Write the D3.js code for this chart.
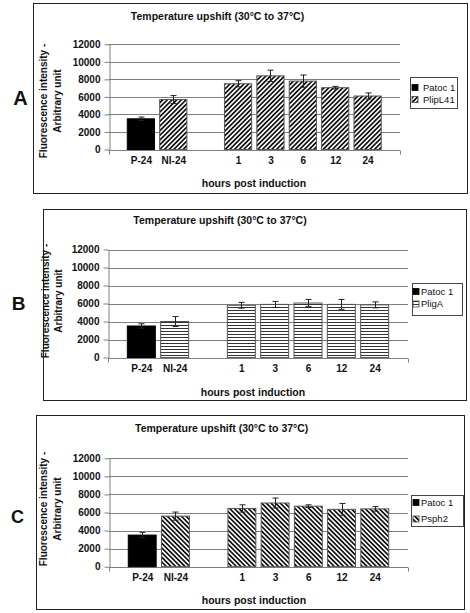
<!DOCTYPE html>
<html><head><meta charset="utf-8">
<script src="https://cdn.jsdelivr.net/npm/d3@7"></script>
<style>
html,body{margin:0;padding:0;background:#fff;}
text{font-family:"Liberation Sans",Arial,sans-serif;fill:#111;}
</style></head><body>
<svg id="c" width="470" height="613"></svg>
<script>
// ---- data ----
const categories = ["P-24", "NI-24", "1", "3", "6", "12", "24"];
const gapSlot = " ";                     // empty slot between NI-24 and 1
const yTicks = [0, 2000, 4000, 6000, 8000, 10000, 12000];
const chartTitle = "Temperature upshift (30°C to 37°C)";
const xTitle = "hours post induction";
const yTitle1 = "Fluorescence intensity -";
const yTitle2 = "Arbitrary unit";
const controlSeries = "Patoc 1";         // series of the first category

const strainA = "PlipL41";
const valuesA = [3500, 5700, 7500, 8400, 7800, 7050, 6100];
const errorsA = [200, 450, 350, 650, 700, 150, 350];

const strainB = "PligA";
const valuesB = [3500, 4000, 5800, 5900, 6050, 5900, 5850];
const errorsB = [250, 550, 320, 330, 400, 550, 330];

const strainC = "Psph2";
const valuesC = [3500, 5600, 6450, 7050, 6700, 6350, 6400];
const errorsC = [300, 450, 400, 550, 150, 650, 250];

// ---- drawing ----
const svg = d3.select("#c");
svg.append("rect").attr("width",470).attr("height",613).attr("fill","#fff");
const defs = svg.append("defs");

function diagPattern(id, angle){
  const p = defs.append("pattern").attr("id", id).attr("patternUnits","userSpaceOnUse")
    .attr("width", 3.3).attr("height", 10).attr("patternTransform", `rotate(${angle})`);
  p.append("rect").attr("width",3.3).attr("height",10).attr("fill","#fff");
  p.append("rect").attr("width",1.7).attr("height",10).attr("fill","#111");
}
diagPattern("hatchA", 45);
diagPattern("hatchC", -45);
{
  const p = defs.append("pattern").attr("id","hatchB").attr("patternUnits","userSpaceOnUse")
    .attr("width", 10).attr("height", 3);
  p.append("rect").attr("width",10).attr("height",3).attr("fill","#fff");
  p.append("rect").attr("y",1).attr("width",10).attr("height",1).attr("fill","#333");
}

const panels = [
  {letter:"A", strain:strainA, values:valuesA, errors:errorsA, fill:"url(#hatchA)",
   frame:[33,3,467,193], xr:[108.5,400], yr:[149.5,44.3], title:[217.5,16], xt:[254,183],
   yt:[43,57.5,101], let:[20.5,105,20], leg:[410,77,457,108], legY:[87.5,99.5], legSw:412, legTx:423},
  {letter:"B", strain:strainB, values:valuesB, errors:errorsB, fill:"url(#hatchB)",
   frame:[43,209,466,400], xr:[108,408], yr:[357.5,249.5], title:[220,220], xt:[253,392],
   yt:[45,58,301], let:[18.5,310,19], leg:[412,283,462,315], legY:[291.5,304], legSw:413, legTx:421},
  {letter:"C", strain:strainC, values:valuesC, errors:errorsC, fill:"url(#hatchC)",
   frame:[36,415,464,609], xr:[109,408], yr:[566.7,458.3], title:[221.7,428], xt:[254,600.5],
   yt:[43,57,509], let:[17.5,523,18], leg:[411,495,463,526], legY:[502.5,519], legSw:413, legTx:421}
];

const slots = [categories[0], categories[1], gapSlot, ...categories.slice(2)];

panels.forEach(P => {
  const g = svg.append("g");
  const [fx0,fy0,fx1,fy1] = P.frame;
  g.append("rect").attr("x",fx0+0.5).attr("y",fy0+0.5).attr("width",fx1-fx0).attr("height",fy1-fy0)
    .attr("fill","#fff").attr("stroke","#222").attr("stroke-width",1);

  const x = d3.scalePoint().domain(slots).range(P.xr).padding(1);
  const y = d3.scaleLinear().domain([0,12000]).range(P.yr);
  const bw = x.step()*0.84;

  // gridlines
  g.append("g").selectAll("line").data(yTicks.filter(t=>t>0)).join("line")
    .attr("x1",P.xr[0]).attr("x2",P.xr[1])
    .attr("y1",d=>Math.round(y(d))+0.5).attr("y2",d=>Math.round(y(d))+0.5)
    .attr("stroke","#808080").attr("stroke-width",1);

  // y axis
  const ya = g.append("g").attr("transform",`translate(${Math.round(P.xr[0])+0.5},0)`)
    .call(d3.axisLeft(y).tickValues(yTicks).tickSize(5).tickPadding(4).tickSizeOuter(0).tickFormat(d3.format("d")));
  ya.select(".domain").attr("stroke","#808080");
  ya.selectAll(".tick line").attr("stroke","#808080");
  ya.selectAll(".tick text").attr("font-size","10px").attr("font-weight","bold")
    .attr("font-family",'"Liberation Sans",Arial,sans-serif').attr("fill","#111");

  // x axis
  const y0 = Math.round(y(0))+0.5;
  const xa = g.append("g").attr("transform",`translate(0,${y0})`)
    .call(d3.axisBottom(x).tickValues(categories).tickSize(0).tickPadding(6));
  xa.select(".domain").remove();
  xa.selectAll(".tick text").attr("font-size","10px").attr("font-weight","bold")
    .attr("font-family",'"Liberation Sans",Arial,sans-serif').attr("fill","#111");
  g.append("line").attr("x1",P.xr[0]).attr("x2",P.xr[1]).attr("y1",y0).attr("y2",y0).attr("stroke","#808080");
  [P.xr[0], P.xr[1]].forEach(xx => g.append("line").attr("x1",Math.round(xx)+0.5).attr("x2",Math.round(xx)+0.5)
    .attr("y1",y0).attr("y2",y0+4).attr("stroke","#808080"));

  // bars
  const data = categories.map((c,i)=>({c, v:P.values[i], e:P.errors[i], s: i===0 ? controlSeries : P.strain}));
  g.append("g").selectAll("rect").data(data).join("rect")
    .attr("x",d=>x(d.c)-bw/2).attr("width",bw)
    .attr("y",d=>y(d.v)).attr("height",d=>y(0)-y(d.v))
    .attr("fill",d=>d.s===controlSeries ? "#000" : P.fill)
    .attr("stroke",d=>d.s===controlSeries ? "#000" : "#555").attr("stroke-width",1);

  // error bars
  const eg = g.append("g").attr("stroke","#222").attr("stroke-width",1);
  data.forEach(d=>{
    const cx = Math.round(x(d.c))+0.5;
    eg.append("line").attr("x1",cx).attr("x2",cx).attr("y1",y(d.v+d.e)).attr("y2",y(d.v-d.e));
    [d.v+d.e, d.v-d.e].forEach(v=>eg.append("line").attr("x1",cx-3).attr("x2",cx+3).attr("y1",y(v)).attr("y2",y(v)));
  });

  // titles
  g.append("text").attr("x",P.title[0]).attr("y",P.title[1]).attr("dy","0.35em").attr("text-anchor","middle")
    .attr("font-size","10.5px").attr("font-weight","bold").text(chartTitle);
  g.append("text").attr("x",P.xt[0]).attr("y",P.xt[1]).attr("dy","0.35em").attr("text-anchor","middle")
    .attr("font-size","10.5px").attr("font-weight","bold").text(xTitle);
  [[P.yt[0],yTitle1],[P.yt[1],yTitle2]].forEach(([xx,t])=>{
    g.append("text").attr("transform",`translate(${xx},${P.yt[2]}) rotate(-90)`).attr("dy","0.35em")
      .attr("text-anchor","middle").attr("font-size","10px").attr("font-weight","bold").text(t);
  });
  g.append("text").attr("x",P.let[0]).attr("y",P.let[1]).attr("text-anchor","middle")
    .attr("font-size",P.let[2]+"px").attr("font-weight","bold").text(P.letter);

  // legend
  const [lx0,ly0,lx1,ly1] = P.leg;
  g.append("rect").attr("x",lx0+0.5).attr("y",ly0+0.5).attr("width",lx1-lx0).attr("height",ly1-ly0)
    .attr("fill","#fff").attr("stroke","#444");
  [[controlSeries,"#000"],[P.strain,P.fill]].forEach(([name,f],i)=>{
    const cy = P.legY[i];
    g.append("rect").attr("x",P.legSw).attr("y",cy-3).attr("width",6).attr("height",6)
      .attr("fill",f).attr("stroke",i===0?"#000":"#444").attr("stroke-width",0.8);
    g.append("text").attr("x",P.legTx).attr("y",cy).attr("dy","0.35em").attr("font-size","9.5px").text(name);
  });
});
</script>
</body></html>
